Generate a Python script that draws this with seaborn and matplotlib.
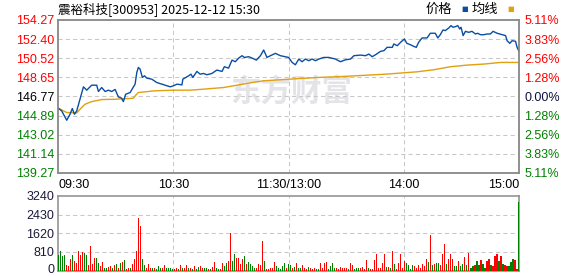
import numpy as np
import pandas as pd
import matplotlib
matplotlib.use("Agg")
import matplotlib.pyplot as plt
import matplotlib.transforms as mtransforms
import seaborn as sns

# ---------------- data ----------------
title_text = "震裕科技[300953] 2025-12-12 15:30"
prev_close = 146.77
price_ticks = [139.27, 141.14, 143.02, 144.89, 146.77, 148.65, 150.52, 152.40, 154.27]
pct_labels = ["5.11%", "3.83%", "2.56%", "1.28%", "0.00%", "1.28%", "2.56%", "3.83%", "5.11%"]
vol_ticks = [0, 810, 1620, 2430, 3240]
time_ticks = [0, 60, 120, 180, 240]
time_labels = ["09:30", "10:30", "11:30/13:00", "14:00", "15:00"]

# price (minutes since 09:30, trading minutes)
price_t = [0, 1.75, 4.4, 6.1, 7.3, 8.4, 9.6, 11.3, 13.1, 14.8, 17.4, 20, 20.9, 22.6, 24.4, 26.1,
           27.8, 29.6, 31.3, 33, 33.9, 35.1, 37.4, 40, 40.9, 41.7, 42.6, 43.8, 44.9, 46.1, 48.7,
           51.3, 53.9, 56.5, 58.3, 60, 61.8, 64.4, 64.9, 67.9, 69.1, 70.1, 72.2, 73.9, 75.7, 77.4,
           80, 82.6, 85.3, 86.5, 88.7, 90.5, 92.2, 94, 95.7, 96.9, 99.2, 100.9, 103.2, 105.3, 107,
           108.7, 110.5, 113.1, 115.7, 118.3, 120, 121.8, 123.5, 125.3, 127, 128.7, 130.5, 132.2,
           134, 135.7, 138.3, 140.9, 144.4, 147, 149.6, 152.2, 154, 157.4, 160, 161.8, 163.5,
           165.3, 167.9, 169.6, 171.3, 174, 174.8, 176.6, 178.3, 180.3, 181.6, 183.4, 185.1,
           186.5, 187.7, 189.5, 192.1, 193.8, 196.4, 197.7, 199, 200.4, 201.6, 203.4, 204.6,
           205.6, 206.9, 208.1, 209.1, 209.8, 210.9, 212.1, 213.8, 215.5, 217.3, 218.5, 219.9,
           221.7, 223.4, 225.1, 226.5, 228.6, 231.2, 233, 233.8, 235.2, 236.4, 238.2, 239, 240]
price_v = [145.62, 145.36, 144.44, 145.03, 145.59, 145.03, 145.36, 146.50, 147.72, 147.39, 147.88,
           147.88, 147.26, 147.65, 147.26, 147.39, 147.26, 147.46, 146.73, 146.60, 146.27, 146.99,
           147.16, 147.98, 149.13, 149.62, 149.46, 148.64, 148.80, 148.57, 148.47, 148.14, 147.98,
           147.82, 147.72, 147.82, 147.98, 147.91, 148.47, 148.80, 148.96, 148.64, 149.23, 148.96,
           149.03, 148.90, 149.03, 149.36, 149.23, 149.69, 149.55, 150.34, 150.18, 150.54, 150.77,
           150.60, 150.67, 150.54, 150.34, 150.77, 151.33, 150.60, 150.77, 151.00, 150.77, 150.67,
           150.60, 150.11, 149.88, 150.44, 150.18, 150.44, 150.28, 150.44, 150.28, 150.44, 150.60,
           150.60, 150.44, 150.18, 150.37, 150.44, 150.77, 150.83, 150.77, 150.93, 150.67, 150.87,
           151.20, 151.26, 151.59, 151.59, 151.92, 151.75, 152.08, 152.41, 151.98, 151.85, 151.69,
           151.59, 152.08, 152.51, 152.51, 152.97, 152.97, 152.51, 152.83, 153.29, 153.23, 153.49,
           153.72, 153.56, 153.62, 153.72, 153.39, 153.56, 152.74, 153.16, 153.06, 153.16, 152.90,
           152.97, 152.83, 152.83, 152.90, 152.90, 153.16, 152.97, 152.83, 152.74, 152.24, 151.98,
           152.24, 152.18, 151.59, 151.20]

avg_t = [0, 4.4, 9.6, 11.3, 13.9, 17.4, 20.9, 22.6, 29.6, 39.1, 40, 41.7, 46.9, 50.4, 60.5, 68.7,
         75.7, 86.1, 93.1, 100, 107, 120.6, 135.7, 147.9, 161.8, 170.5, 180.6, 186.8, 195.5,
         204.4, 213, 221.7, 230.4, 240]
avg_v = [145.62, 145.20, 145.16, 145.52, 146.01, 146.27, 146.40, 146.47, 146.50, 146.60, 146.83,
         147.16, 147.26, 147.33, 147.39, 147.39, 147.49, 147.65, 147.88, 148.11, 148.31, 148.47,
         148.64, 148.73, 148.87, 148.96, 149.10, 149.19, 149.39, 149.69, 149.85, 149.95, 150.11,
         150.11]

# per-minute volume bars and their direction (u = up/red, d = down/green)
volume = [657, 832, 613, 657, 219, 175, 482, 657, 394, 307,
          832, 657, 788, 759, 657, 219, 1051, 292, 526, 526,
          307, 175, 350, 117, 117, 161, 175, 117, 219, 263,
          88, 307, 350, 438, 58, 117, 88, 263, 482, 832,
          2278, 1927, 482, 219, 117, 263, 117, 117, 88, 58,
          175, 117, 88, 219, 88, 88, 88, 58, 58, 88,
          58, 219, 88, 117, 219, 117, 88, 58, 175,
          58, 146, 175, 117, 88, 117, 58, 58, 146, 350,
          117, 58, 58, 307, 175, 307, 394, 1635, 394, 701,
          526, 526, 263, 482, 613, 263, 350, 263, 175, 117,
          88, 263, 219, 1285, 394, 58, 58, 88, 88, 350,
          175, 117, 58, 175, 307, 117, 263, 219, 88, 146,
          307, 88, 88, 219, 88, 58, 146, 88, 58, 88,
          58, 58, 307, 88, 307, 350, 58, 175, 307, 117,
          88, 58, 146, 88, 117, 88, 58, 307, 219, 58,
          117, 88, 88, 146, 58, 438, 117, 58, 58, 438,
          701, 88, 88, 307, 701, 146, 146,
          117, 832, 263, 58, 307, 701, 117, 394, 307, 219,
          58, 219, 175, 88, 219, 88, 263, 175, 482, 350,
          1533, 219, 263, 307, 307, 219, 701, 1139, 263, 482,
          701, 482, 175, 175, 394, 175, 263, 569, 219, 745,
          88, 175, 219, 394, 219, 438, 263, 117, 394, 482,
          219, 175, 613, 701, 394, 613, 263, 219, 175, 175,
          350, 482, 438, 58, 2980]
vol_dir = list("dddduuuduu" "uuudduuuud" "duudduudud" "ududuuduuu" "uudduuudud"
               "dduudddduu" "duduududu"
               "dduudduduu" "dduudduudd" "uuuududddd" "uuuuduuuuu" "ddddduddud"
               "udduuuduuu" "dduuuudddd" "uuuuuuduud" "dduuuuduuu" "uuuuudu"
               "duduuuuudd" "dduuuuuuud" "ududduuudu" "uudduddudu" "dduddudduu"
               "duuududuud" "dduud")

# ---------------- figure ----------------
sns.set_theme(style="white")
plt.rcParams["font.family"] = ["Liberation Sans", "Noto Sans CJK SC", "DejaVu Sans"]

W, H = 578, 276
fig = plt.figure(figsize=(W / 100, H / 100), dpi=100)
fig.patch.set_facecolor("white")

def fx(px):
    return px / W

def fy(py):
    return 1 - py / H

left_px, right_px = 58.3, 519
ax = fig.add_axes([fx(left_px), fy(173), fx(right_px - left_px), (173 - 20) / H])
axv = fig.add_axes([fx(left_px), fy(270.5), fx(right_px - left_px), (270.5 - 196) / H])

RED = "#ff0000"
GREEN = "#008000"
BLUE = "#0a4ea3"
GOLD = "#e0a010"
GRID = "#c8c8c8"
SPINE = "#8c8c8c"

# watermark
ax.text(0.505, 0.53, "东方财富", transform=ax.transAxes, ha="center", va="center",
        fontsize=22, fontweight="bold", color="#e4e4e8", family=["Noto Sans CJK SC"], zorder=0)

df_p = pd.DataFrame({"t": price_t, "v": price_v})
df_a = pd.DataFrame({"t": avg_t, "v": avg_v})
sns.lineplot(data=df_a, x="t", y="v", ax=ax, color=GOLD, lw=1.0, zorder=3)
sns.lineplot(data=df_p, x="t", y="v", ax=ax, color=BLUE, lw=1.0, zorder=4)

ax.set_xlim(0, 240)
ax.set_ylim(price_ticks[0], price_ticks[-1])
ax.set_yticks(price_ticks)
ax.set_yticklabels([f"{v:.2f}" for v in price_ticks])
for lab, v in zip(ax.get_yticklabels(), price_ticks):
    lab.set_color(RED if v > prev_close + 1e-6 else (GREEN if v < prev_close - 1e-6 else "black"))
ax.set_xticks(time_ticks)
ax.set_xticklabels(time_labels)
xl = ax.get_xticklabels()
xl[0].set_ha("left")
xl[-1].set_ha("right")
ax.tick_params(axis="both", length=0, labelsize=9, pad=3)
ax.tick_params(axis="x", pad=4, colors="black")
ax.set_xlabel("")
ax.set_ylabel("")
for y in price_ticks[1:-1]:
    ax.axhline(y, color=GRID, lw=0.75, ls=(0, (4, 3)), zorder=1)
for x in time_ticks[1:-1]:
    ax.axvline(x, color=GRID, lw=0.75, ls=(0, (4, 3)), zorder=1)

ax2 = ax.twinx()
ax2.set_ylim(ax.get_ylim())
ax2.set_yticks(price_ticks)
ax2.set_yticklabels(pct_labels[::-1])
for lab, v in zip(ax2.get_yticklabels(), price_ticks):
    lab.set_color(RED if v > prev_close + 1e-6 else (GREEN if v < prev_close - 1e-6 else "#101040"))
ax2.tick_params(axis="y", length=0, labelsize=9, pad=4)

for a in (ax, ax2, axv):
    for s in a.spines.values():
        s.set_color(SPINE)
        s.set_linewidth(1.1)

# volume
minutes = np.linspace(0, 240, len(volume))
colors = [RED if d == "u" else GREEN for d in vol_dir]
axv.bar(minutes, volume, width=0.6, color=colors, linewidth=0, antialiased=False, zorder=3)
axv.set_xlim(0, 240)
axv.set_ylim(0, 3240)
axv.set_yticks(vol_ticks)
axv.set_yticklabels([str(v) for v in vol_ticks])
axv.set_xticks([])
axv.tick_params(axis="y", length=0, labelsize=9, pad=3, colors="#1a1a3a")
# keep the bottom "0" label inside the canvas
zero_lab = axv.get_yticklabels()[0]
zero_lab.set_transform(zero_lab.get_transform() +
                       mtransforms.ScaledTranslation(0, 2 / 100, fig.dpi_scale_trans))
for y in vol_ticks[1:-1]:
    axv.axhline(y, color=GRID, lw=0.75, ls=(0, (4, 3)), zorder=1)
for x in time_ticks[1:-1]:
    axv.axvline(x, color=GRID, lw=0.75, ls=(0, (4, 3)), zorder=1)

# title & legend
fig.text(fx(58), fy(9), title_text, ha="left", va="center", fontsize=9,
         family=["Noto Sans CJK SC"], color="black")
fig.text(fx(452), fy(9), "价格", ha="right", va="center", fontsize=9.5,
         family=["Noto Sans CJK SC"], color="black")
fig.text(fx(464.5), fy(9), "■", ha="center", va="center", fontsize=5, color=BLUE,
         family=["DejaVu Sans"])
fig.text(fx(498), fy(9), "均线", ha="right", va="center", fontsize=9.5,
         family=["Noto Sans CJK SC"], color="black")
fig.text(fx(510.5), fy(9), "■", ha="center", va="center", fontsize=5, color=GOLD,
         family=["DejaVu Sans"])

fig.savefig("out.png", dpi=100, facecolor="white")
